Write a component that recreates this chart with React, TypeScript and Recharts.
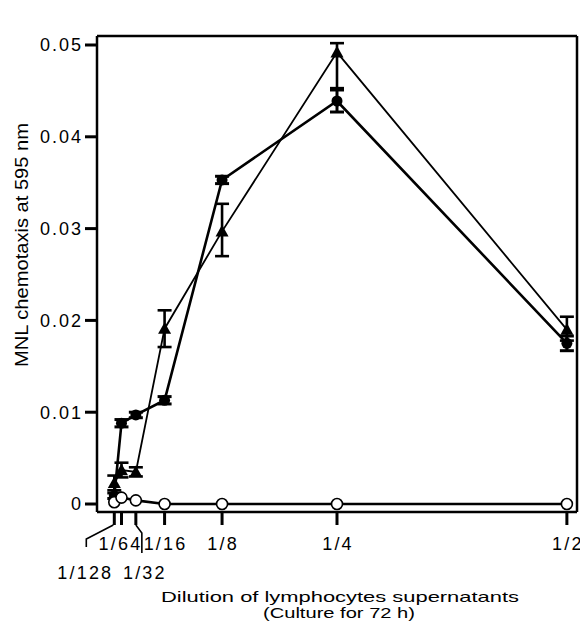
import { ComposedChart, Line, XAxis, YAxis, ErrorBar, Label } from "recharts";

// dilution of lymphocyte supernatants (x) and MNL chemotaxis at 595 nm (y)
const dilutionLabels = ["1/128", "1/64", "1/32", "1/16", "1/8", "1/4", "1/2"];
const dilutions = [1 / 128, 1 / 64, 1 / 32, 1 / 16, 1 / 8, 1 / 4, 1 / 2];

const filledCircle = [0.0009, 0.0088, 0.0097, 0.0113, 0.0353, 0.0439, 0.0175];
const filledErr = [0.0003, 0.0004, 0.0003, 0.0004, 0.0004, 0.0012, 0.0008];

const triangle = [0.0023, 0.0037, 0.0035, 0.0191, 0.0297, 0.0492, 0.019];
const triErrLow = [0.0008, 0.0008, 0.0005, 0.002, 0.0027, 0.0039, 0.0012];
const triErrHigh = [0.0008, 0.0008, 0.0005, 0.002, 0.003, 0.001, 0.0014];

const openCircle = [0.0002, 0.0007, 0.0004, 0.0, 0.0, 0.0, 0.0];

const yTicks = [0, 0.01, 0.02, 0.03, 0.04, 0.05];
const yTickLabels = ["0", "0.01", "0.02", "0.03", "0.04", "0.05"];

const data = dilutions.map((d, i) => ({
  x: d,
  filled: filledCircle[i],
  filledErr: filledErr[i],
  tri: triangle[i],
  triErr: [triErrLow[i], triErrHigh[i]],
  open: openCircle[i],
}));

const FONT = "'Liberation Sans', Arial, Helvetica, sans-serif";

const FilledDot = (props: any) => {
  const { cx, cy, index } = props;
  return <circle key={`f-${index}`} cx={cx} cy={cy} r={5.5} fill="#000" />;
};

const TriDot = (props: any) => {
  const { cx, cy, index } = props;
  const s = 6.5;
  return (
    <path
      key={`t-${index}`}
      d={`M${cx},${cy - s} L${cx + s},${cy + s * 0.8} L${cx - s},${cy + s * 0.8} Z`}
      fill="#000"
    />
  );
};

const OpenDot = (props: any) => {
  const { cx, cy, index } = props;
  return <circle key={`o-${index}`} cx={cx} cy={cy} r={5.5} fill="#fff" stroke="#000" strokeWidth={1.6} />;
};

const BottomTick = (props: any) => {
  const { x, y, payload } = props;
  const i = dilutions.indexOf(payload.value);
  const label = dilutionLabels[i];
  const top = y - 2;
  const textProps = { fontSize: 18, fontFamily: FONT, letterSpacing: 2.2, textAnchor: "middle" as const, fill: "#000" };
  if (label === "1/128") {
    return (
      <g>
        <path d={`M${x - 1},${top} L${x - 28},${top + 14} L${x - 28},${top + 22}`} fill="none" stroke="#000" strokeWidth={1.6} />
        <text x={x - 29} y={top + 54} {...textProps}>{label}</text>
      </g>
    );
  }
  if (label === "1/32") {
    return (
      <g>
        <path d={`M${x},${top} L${x + 6},${top + 8} L${x + 6},${top + 28}`} fill="none" stroke="#000" strokeWidth={1.6} />
        <text x={x + 9} y={top + 54} {...textProps}>{label}</text>
      </g>
    );
  }
  const dx = label === "1/64" ? -1 : 1;
  return (
    <text x={x + dx} y={top + 25} {...textProps}>{label}</text>
  );
};

export default function App() {
  return (
    <div style={{ width: 580, height: 620, background: "#fff" }}>
      <ComposedChart width={580} height={620} data={data} margin={{ top: 0, right: 0, bottom: 86, left: 0 }}>
        <XAxis
          dataKey="x"
          type="number"
          domain={[-0.011, 0.511]}
          allowDataOverflow
          ticks={dilutions}
          height={30}
          tickSize={13}
          axisLine={{ stroke: "#000", strokeWidth: 2.5 }}
          tickLine={{ stroke: "#000", strokeWidth: 3 }}
          tick={<BottomTick />}
          interval={0}
        >
          <Label
            content={() => (
              <g fontFamily={FONT} fontSize={14.5} fill="#000">
                <text x={332} y={594} textAnchor="middle" textLength={358} lengthAdjust="spacingAndGlyphs">
                  Dilution of lymphocytes supernatants
                </text>
                <text x={331} y={610} textAnchor="middle" textLength={152} lengthAdjust="spacingAndGlyphs">
                  (Culture for 72 h)
                </text>
              </g>
            )}
          />
        </XAxis>
        <XAxis
          xAxisId="top"
          dataKey="x"
          type="number"
          orientation="top"
          domain={[-0.011, 0.511]}
          allowDataOverflow
          ticks={dilutions}
          height={28}
          tickSize={11}
          tick={false}
          axisLine={{ stroke: "#000", strokeWidth: 2.5 }}
          tickLine={{ stroke: "#000", strokeWidth: 3 }}
          interval={0}
        />
        <YAxis
          type="number"
          domain={[-0.00087, 0.05098]}
          allowDataOverflow
          ticks={yTicks}
          width={89}
          tickSize={12}
          tickMargin={2}
          axisLine={{ stroke: "#000", strokeWidth: 2.5 }}
          tickLine={{ stroke: "#000", strokeWidth: 3 }}
          tick={{ fill: "#000", fontSize: 18, fontFamily: FONT, letterSpacing: 2 }}
          tickFormatter={(v: number) => yTickLabels[yTicks.indexOf(v)]}
          interval={0}
        >
          <Label
            content={() => (
              <text
                x={20}
                y={237}
                transform="rotate(-90 20 237)"
                textAnchor="middle"
                fontFamily={FONT}
                fontSize={18}
                fill="#000"
                textLength={244}
                lengthAdjust="spacingAndGlyphs"
              >
                MNL chemotaxis at 595 nm
              </text>
            )}
          />
        </YAxis>
        <YAxis
          yAxisId="right"
          orientation="right"
          type="number"
          domain={[-0.00087, 0.05098]}
          allowDataOverflow
          ticks={yTicks}
          width={11}
          tickSize={10}
          tick={false}
          axisLine={{ stroke: "#000", strokeWidth: 2.5 }}
          tickLine={{ stroke: "#000", strokeWidth: 2.5 }}
          interval={0}
        />
        <Line dataKey="filled" stroke="#000" strokeWidth={2.6} dot={<FilledDot />} isAnimationActive={false}>
          <ErrorBar dataKey="filledErr" direction="y" width={7} stroke="#000" strokeWidth={3} />
        </Line>
        <Line dataKey="tri" stroke="#000" strokeWidth={1.8} dot={<TriDot />} isAnimationActive={false}>
          <ErrorBar dataKey="triErr" direction="y" width={7} stroke="#000" strokeWidth={2.6} />
        </Line>
        <Line dataKey="open" stroke="#000" strokeWidth={2.6} dot={<OpenDot />} isAnimationActive={false} />
      </ComposedChart>
    </div>
  );
}
